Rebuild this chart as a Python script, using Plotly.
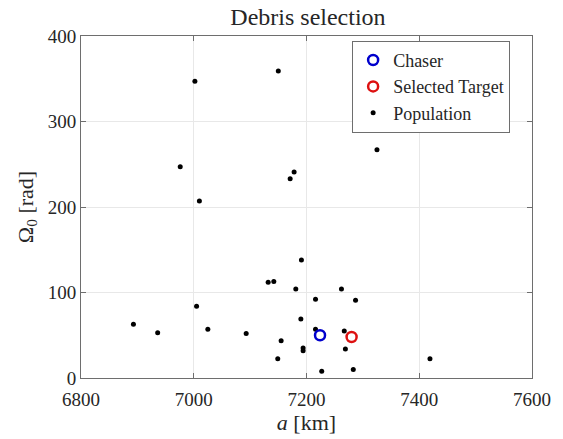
import plotly.graph_objects as go

pop_a = [6893, 6936, 7005, 7025, 7093, 7132, 7142, 7191, 7181, 7216, 7262, 7287,
         7190, 7216, 7267, 7155, 7194, 7194, 7269, 7149, 7227, 7283, 7419,
         6976, 7010, 7171, 7178, 7002, 7150, 7325]
pop_omega = [63, 53, 84, 57, 52, 112, 113, 138, 104, 92, 104, 91,
             69, 57, 55, 43.5, 35, 32, 34, 22.5, 8, 10, 22.5,
             247, 207, 233, 241, 347, 359, 267]
chaser_a = [7224]
chaser_omega = [50]
target_a = [7280]
target_omega = [48]

font_family = "Liberation Serif, DejaVu Serif, serif"
txt = "#262626"

fig = go.Figure()
fig.add_trace(go.Scatter(x=pop_a, y=pop_omega, mode="markers", name="Population",
                         legendrank=3,
                         marker=dict(symbol="circle", size=5, color="black")))
fig.add_trace(go.Scatter(x=chaser_a, y=chaser_omega, mode="markers", name="Chaser",
                         legendrank=1,
                         marker=dict(symbol="circle-open", size=10, color="#0000cc",
                                     line=dict(width=2.5, color="#0000cc"))))
fig.add_trace(go.Scatter(x=target_a, y=target_omega, mode="markers", name="Selected Target",
                         legendrank=2,
                         marker=dict(symbol="circle-open", size=10, color="#dd1111",
                                     line=dict(width=2.5, color="#dd1111"))))

axis_common = dict(showline=True, linecolor="#6e6e6e", linewidth=1, mirror="ticks",
                   ticks="inside", ticklen=5, tickcolor="#6e6e6e",
                   showgrid=True, gridcolor="#e8e8e8", gridwidth=1, zeroline=False,
                   tickfont=dict(family=font_family, size=19, color=txt))

fig.update_layout(
    width=563, height=439,
    margin=dict(l=81, r=28, t=36, b=61),
    plot_bgcolor="white", paper_bgcolor="white",
    title=dict(text="Debris selection", x=0.547, xanchor="center", y=0.962, yanchor="middle",
               font=dict(family=font_family, size=24, color=txt)),
    xaxis=dict(range=[6800, 7600], tickvals=[6800, 7000, 7200, 7400, 7600],
               ticklabelstandoff=4,
               title=dict(text="<i>a</i> [km]", font=dict(family=font_family, size=22, color=txt),
                          standoff=2),
               **axis_common),
    yaxis=dict(range=[0, 400], tickvals=[0, 100, 200, 300, 400],
               title=dict(text="Ω<sub>0</sub> [rad]", font=dict(family=font_family, size=22, color=txt),
                          standoff=8),
               **axis_common),
    legend=dict(x=0.9515, y=0.986, xanchor="right", yanchor="top",
                bgcolor="white", bordercolor="#6e6e6e", borderwidth=1,
                font=dict(family=font_family, size=18, color=txt),
                traceorder="normal", tracegroupgap=0, itemsizing="trace"),
    showlegend=True,
)

fig.write_html("out.html")
